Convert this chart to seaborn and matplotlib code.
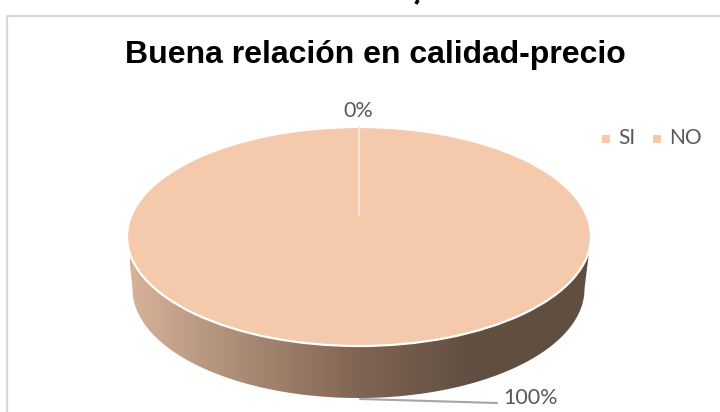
import numpy as np
import seaborn as sns
import matplotlib.pyplot as plt
from matplotlib.patches import Polygon, Rectangle

categories = ['SI', 'NO']
values = [0, 100]
title = 'Buena relación en calidad-precio'

sns.set_theme(style='white')
plt.rcParams['font.family'] = ['Lato', 'DejaVu Sans']

top_color = '#F5C9AC'
side_colors = ['#D6B299', '#A98A74', '#806453', '#604E40', '#604E40']

fig = plt.figure(figsize=(7.2, 4.12), dpi=100)

# background axes in pixels, for the frame, rim and labels
bg = fig.add_axes([0, 0, 1, 1])
bg.set_xlim(0, 720)
bg.set_ylim(412, 0)
bg.axis('off')

# chart frame, open at the bottom
bg.plot([7, 7, 720], [412, 16, 16], color='#D9D9D9', lw=1.6)

# rim of the 3D pie: top ellipse edge down to the smaller lower ellipse
t = np.linspace(0, np.pi, 200)
upper_x = 359 + 232 * np.cos(t)
upper_y = 236 + 109.5 * np.sin(t)
lower_x = 358.5 + 226 * np.cos(t)
lower_y = 289 + 109 * np.sin(t)
rim = np.vstack([np.column_stack([upper_x, upper_y]),
                 np.column_stack([lower_x[::-1], lower_y[::-1]])])
rim_patch = Polygon(rim, closed=True, facecolor='none', edgecolor='none')
bg.add_patch(rim_patch)

cmap = sns.blend_palette(side_colors, as_cmap=True)
grad = bg.imshow(np.linspace(0, 1, 256).reshape(1, -1), cmap=cmap, aspect='auto',
                 extent=(130, 590, 400, 230), zorder=1)
grad.set_clip_path(rim_patch)
bg.set_xlim(0, 720)
bg.set_ylim(412, 0)

# pie top, squashed to an ellipse by its own axes box
ax = fig.add_axes([127 / 720, 1 - 346 / 412, 464 / 720, 219 / 412])
ax.pie(values, startangle=90, counterclock=False, colors=[top_color, top_color],
       wedgeprops={'edgecolor': 'white', 'linewidth': 1.6}, radius=1)
ax.set_xlim(-1.0, 1.0)
ax.set_ylim(-1.0, 1.0)
ax.set_aspect('auto')
for w in ax.patches:
    w.set_clip_on(False)
ax.patch.set_alpha(0)

# overlay for the text and the leader line
fg = fig.add_axes([0, 0, 1, 1])
fg.set_xlim(0, 720)
fg.set_ylim(412, 0)
fg.axis('off')
fg.patch.set_alpha(0)

fg.plot([358.5, 358.5], [127, 215], color='#FBE6D8', lw=1.4)
fg.plot([360, 497], [399, 403], color='#A6A6A6', lw=1.5)

# scrap of a cut off letter at the top edge of the source picture
fg.plot([418, 416], [0, 4], color='black', lw=2.6, solid_capstyle='butt')

fg.text(375, 63, title, ha='center', va='baseline', fontsize=23, fontweight='bold',
        family='Liberation Sans', color='black')
fg.text(358.5, 111, f'{values[0]}%', ha='center', va='center', fontsize=15.5, color='#595959')
fg.text(531, 397.5, f'{values[1]}%', ha='center', va='center', fontsize=15.5, color='#595959')

# legend
for x_box, x_txt, name in zip([606, 657], [618, 669], categories):
    fg.add_patch(Rectangle((x_box - 4, 135), 8, 7.5, facecolor=top_color, edgecolor='none'))
    fg.text(x_txt, 138, name, ha='left', va='center', fontsize=15, color='#595959')

fig.savefig('out.png', dpi=100)
